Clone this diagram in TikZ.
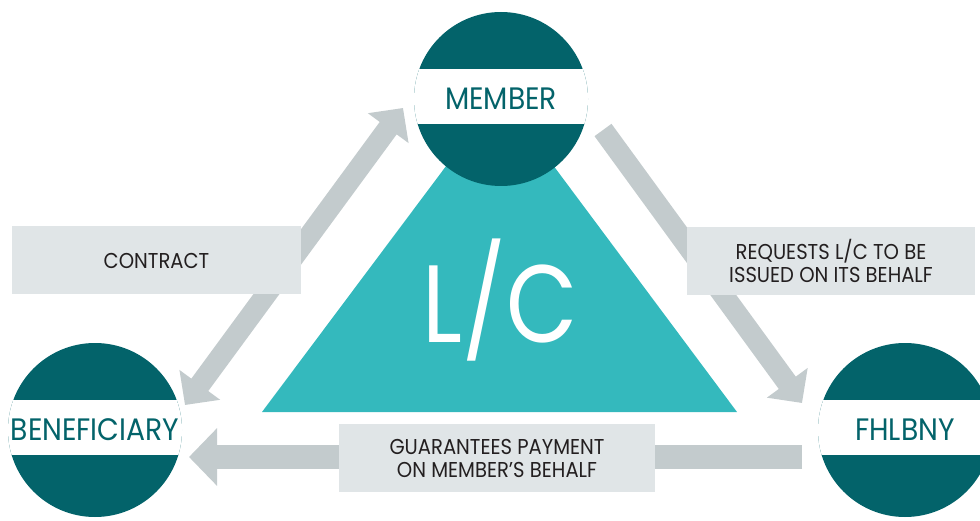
\documentclass[tikz,border=0pt]{standalone}
\usepackage{fontspec}
\setmainfont{Poppins}
\newfontfamily\narrowfont[FakeStretch=0.91]{Poppins}
\newfontfamily\lcfont[FakeStretch=0.84]{Poppins}
\usetikzlibrary{arrows.meta,calc}

\definecolor{darkteal}{HTML}{03636A}
\definecolor{lcteal}{HTML}{34B9BD}
\definecolor{arrowgray}{HTML}{C3CBCD}
\definecolor{boxgray}{HTML}{E0E5E7}
\definecolor{labelblack}{HTML}{231F20}

\tikzstyle{party}=[circle,fill=darkteal,minimum size=174pt,inner sep=0pt,
    text=darkteal,font=\narrowfont\fontsize{31}{31}\selectfont,
    path picture={\fill[white] ([yshift=-25pt]path picture bounding box.west)
        rectangle ([yshift=30pt]path picture bounding box.east);}]
\tikzstyle{infobox}=[fill=boxgray,text=labelblack,align=center,inner sep=0pt,
    minimum height=68pt,font=\narrowfont\fontsize{21.5}{23}\selectfont]
\tikzstyle{flow}=[draw=arrowgray,line width=21pt,-{Triangle[width=49pt,length=25pt]}]
\tikzstyle{twoflow}=[flow,{Triangle[width=49pt,length=25pt]}-{Triangle[width=49pt,length=25pt]}]

\begin{document}
\begin{tikzpicture}[x=1pt,y=1pt]
\useasboundingbox (0,0) rectangle (980,520);
\clip (0,0) rectangle (980,520);
% letter of credit
\fill[lcteal] (262,108) -- (737,108) -- (500,426) -- cycle;
\node[text=white,font=\lcfont\fontsize{110}{110}\selectfont,inner sep=0pt] (lc) at (500,220) {L/C};
% parties
\node[party] (member) at (501,421) {MEMBER};
\node[party] (benef) at (95,90) {BENEFICIARY};
\node[party] (fhlbny) at (905,90) {FHLBNY};
% arrows
\draw[twoflow] ($(benef)+(90,25)$) -- ($(member)+(-98,-9)$);
\draw[flow] ($(member)+(102,-31)$) -- ($(fhlbny)+(-103,27)$);
\draw[flow,line width=24pt,-{Triangle[width=56pt,length=28pt]}]
    ($(fhlbny)+(-103,-27)$) -- ($(benef)+(94,-27)$);
% labels
\node[infobox,minimum width=289pt] (contract) at (156.5,259.5) {CONTRACT};
\node[infobox,minimum width=288pt] (requests) at (831,259) {REQUESTS L/C TO BE\\ISSUED ON ITS BEHALF};
\node[infobox,minimum width=316pt] (guarantee) at (497,62) {GUARANTEES PAYMENT\\ON MEMBER’S BEHALF};
\end{tikzpicture}
\end{document}
